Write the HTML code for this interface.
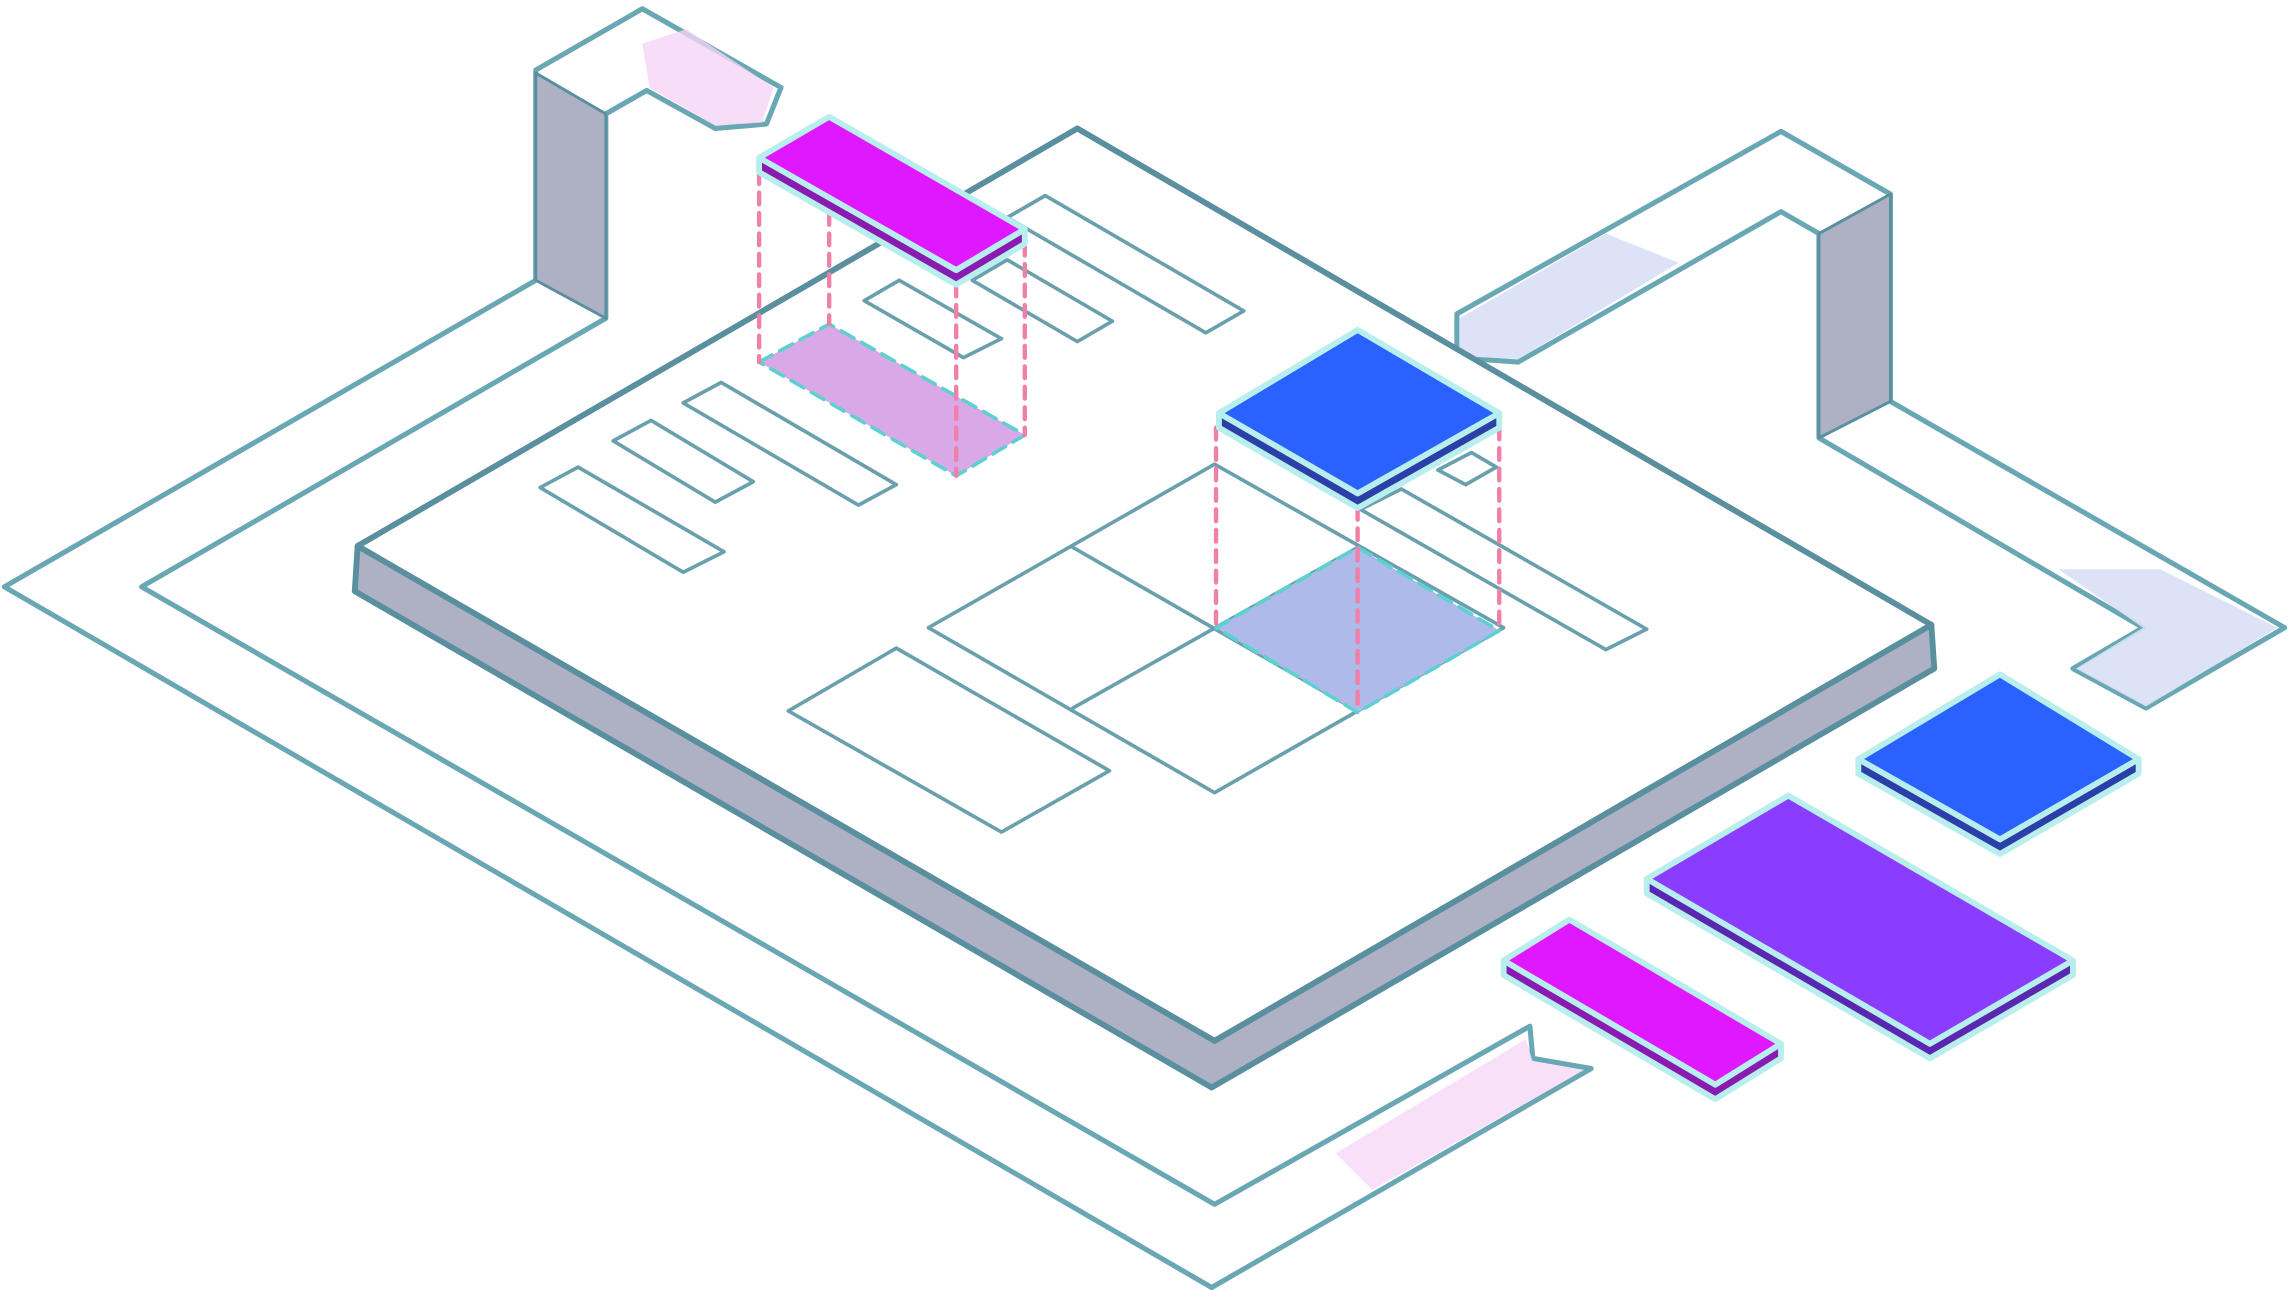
<!DOCTYPE html>
<html><head><meta charset="utf-8"><style>
html,body{margin:0;padding:0;background:#fff;width:2289px;height:1290px;overflow:hidden}
svg{display:block}
</style></head><body>
<svg width="2289" height="1290" viewBox="0 0 1568 883.7" preserveAspectRatio="none" xmlns="http://www.w3.org/2000/svg">
<g stroke-linejoin="round" stroke-linecap="round">
<!-- left track -->
<path d="M3,402 L367,192 L367,48 L440,6 L535,60 L525,85 L490,88 L443,62 L415,78 L415,218 L97,402 L832,825 L1048,703 L1050,725 L1090,732 L830,882 Z" fill="#fff" stroke="#6aa7b4" stroke-width="3.5"/>
<polygon points="367,50 415,78 415,218 367,192" fill="#aeb0c4" stroke="#5a8fa0" stroke-width="2"/>
<polygon points="440,30 470,20 530,60 522,84 490,86 445,60" fill="#f5d5f5" opacity="0.8"/>
<polygon points="915,790 1045,712 1050,727 1085,733 940,815" fill="#f7d8f7" opacity="0.8"/>
<!-- right track -->
<path d="M998,215 L1220,90 L1295,133 L1295,275 L1565,430 L1470,485 L1420,458 L1468,430 L1246,300 L1246,160 L1220,145 L1040,248 L998,245 Z" fill="#fff" stroke="#6aa7b4" stroke-width="3.5"/>
<polygon points="1246,160 1295,133 1295,275 1246,300" fill="#aeb0c4" stroke="#5a8fa0" stroke-width="2"/>
<polygon points="1000,218 1100,160 1150,180 1040,246 1000,244" fill="#d8e0f6" opacity="0.9"/>
<polygon points="1410,390 1480,390 1560,430 1470,484 1422,458 1468,430" fill="#d8e0f6" opacity="0.9"/>
<!-- platform -->
<polygon points="245,374 832,713 1323,428 1325,458 830,745 243,405" fill="#aeb0c4" stroke="#5a8fa0" stroke-width="4"/>
<polygon points="738,88 1323,428 832,713 245,374" fill="#fff" stroke="#5a8fa0" stroke-width="4"/>
<!-- platform outlines -->
<g fill="none" stroke="#6aa0ad" stroke-width="2.5">
<polygon points="690,149 716,134 852,213 826,228"/>
<polygon points="666,192 690,178 762,220 738,234"/>
<polygon points="592,206 616,192 686,232 660,245"/>
<polygon points="468,276 494,262 614,332 588,346"/>
<polygon points="420,302 446,288 516,330 490,344"/>
<polygon points="370,334 396,320 496,378 468,392"/>
<polygon points="636,430 832,318 1030,430 832,543"/>
<line x1="735" y1="375" x2="930" y2="487"/>
<line x1="735" y1="485" x2="930" y2="375"/>
<polygon points="540,487 614,444 760,528 686,570"/>
<polygon points="932,349 960,335 1128,431 1100,445"/>
<polygon points="985,322 1008,310 1025,320 1004,332"/>
</g>
<!-- shadows -->
<polygon points="520,248 568,222 702,298 655,326" fill="#d9a8e6" stroke="#5fd0d0" stroke-width="2.5" stroke-dasharray="10 6"/>
<polygon points="833,430 930,375 1027,432 930,488" fill="#aebbea" stroke="#5fd0d0" stroke-width="2.5" stroke-dasharray="10 6"/>
<g stroke="#f080a8" stroke-width="3" stroke-dasharray="8 6">
<line x1="520" y1="118" x2="520" y2="248"/><line x1="568" y1="90" x2="568" y2="222"/>
<line x1="655" y1="195" x2="655" y2="326"/><line x1="702" y1="167" x2="702" y2="298"/>
<line x1="833" y1="293" x2="833" y2="430"/><line x1="930" y1="348" x2="930" y2="488"/>
<line x1="1027" y1="293" x2="1027" y2="432"/>
</g>
<!-- magenta top block -->
<polygon points="520,108 655,185 702,157 702,167 655,195 520,118" fill="#8a1bb0" stroke="#b8eeee" stroke-width="4"/>
<polygon points="520,108 568,80 702,157 655,185" fill="#e018ff" stroke="#b8eeee" stroke-width="4"/>
<!-- blue block -->
<polygon points="835,283 930,338 1027,283 1027,293 930,348 835,293" fill="#2a40a8" stroke="#b8eeee" stroke-width="4"/>
<polygon points="835,283 930,226 1027,283 930,338" fill="#2962ff" stroke="#b8eeee" stroke-width="4"/>
<!-- right blue -->
<polygon points="1273,520 1370,575 1465,520 1465,530 1370,585 1273,530" fill="#2a40a8" stroke="#b8eeee" stroke-width="4"/>
<polygon points="1273,520 1370,462 1465,520 1370,575" fill="#2962ff" stroke="#b8eeee" stroke-width="4"/>
<!-- purple -->
<polygon points="1128,602 1322,715 1420,658 1420,668 1322,725 1128,612" fill="#5a28b0" stroke="#b8eeee" stroke-width="4"/>
<polygon points="1128,602 1225,545 1420,658 1322,715" fill="#8a3dff" stroke="#b8eeee" stroke-width="4"/>
<!-- magenta bottom -->
<polygon points="1030,658 1175,743 1220,715 1220,725 1175,753 1030,668" fill="#8a1bb0" stroke="#b8eeee" stroke-width="4"/>
<polygon points="1030,658 1075,630 1220,715 1175,743" fill="#e018ff" stroke="#b8eeee" stroke-width="4"/>
</g>
</svg>
</body></html>
